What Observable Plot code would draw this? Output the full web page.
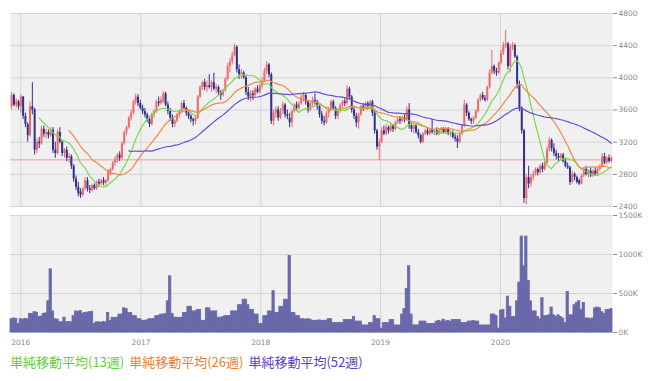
<!DOCTYPE html>
<html><head><meta charset="utf-8">
<script src="https://cdn.jsdelivr.net/npm/d3@7"></script>
<script src="https://cdn.jsdelivr.net/npm/@observablehq/plot@0.6"></script>
<style>
body{margin:0;background:#fff;}
#wrap{position:relative;width:654px;height:381px;overflow:hidden;}
#price,#vol{display:block;line-height:0;}
#legend{position:absolute;left:10px;top:354px;font-family:"Noto Sans CJK JP";font-size:13px;line-height:16px;white-space:nowrap;}
#legend span{margin-right:5px;}
</style></head><body>
<div id="wrap"><div id="price"></div><div id="vol"></div><div id="legend"></div></div>
<script>
const startDate = "2015-12-04"; // first weekly bar
const open = [
3640,3780,3660,3700,3640,3760,3520,3420,3280,3640,
3600,3100,3200,3180,3360,3300,3320,3280,3350,3100,
3060,3320,3200,3060,3100,3000,3020,2900,2740,2640,
2580,2540,2620,2720,2620,2600,2660,2620,2700,2680,
2720,2690,2720,2800,2860,2940,2980,3040,3000,3180,
3320,3380,3500,3560,3700,3760,3680,3620,3580,3540,
3480,3420,3540,3580,3700,3680,3700,3800,3660,3580,
3500,3420,3460,3540,3580,3680,3620,3560,3520,3480,
3460,3500,3760,3880,3940,3880,3900,3880,3940,3860,
3880,3820,3780,3840,3980,4140,4200,4280,4380,4100,
4040,4060,4000,3820,3760,3800,3780,3860,3820,3900,
3960,4080,4160,4040,3460,3560,3600,3500,3580,3660,
3540,3500,3440,3580,3660,3620,3680,3760,3780,3700,
3600,3680,3720,3700,3640,3540,3460,3440,3560,3600,
3700,3620,3520,3580,3660,3700,3680,3860,3760,3600,
3520,3440,3540,3640,3620,3680,3640,3700,3560,3340,
3140,3200,3340,3300,3380,3340,3400,3360,3440,3480,
3460,3500,3480,3600,3400,3360,3400,3320,3280,3200,
3300,3340,3300,3360,3320,3340,3300,3340,3360,3320,
3360,3300,3320,3260,3240,3200,3300,3400,3660,3560,
3480,3460,3500,3580,3720,3780,3740,3720,3880,4060,
4140,4080,4060,4180,4300,4400,4420,4140,4380,4400,
4260,3920,3620,3340,2500,2760,2680,2760,2800,2860,
2820,2900,2860,2940,3100,3220,3120,3060,3020,3000,
3040,2960,2900,2880,2700,2800,2760,2720,2680,2780,
2860,2800,2840,2780,2840,2800,2860,2900,3020,2940,
3000,2960];
const high = [
3820,3800,3740,3720,3790,3770,3560,3440,3700,3940,
3620,3240,3260,3400,3400,3360,3350,3380,3380,3200,
3350,3380,3220,3120,3140,3060,3040,2920,2780,2700,
2620,2640,2760,2760,2660,2680,2680,2720,2740,2740,
2760,2740,2860,2880,2960,3020,3060,3080,3200,3340,
3400,3520,3600,3720,3800,3790,3720,3660,3620,3560,
3500,3560,3600,3720,3760,3760,3830,3820,3700,3620,
3540,3480,3560,3600,3700,3720,3640,3600,3540,3500,
3520,3780,3900,3960,3980,3960,4040,3960,4060,3920,
3900,3840,3860,4000,4180,4240,4320,4420,4400,4160,
4100,4080,4020,3880,3840,3840,3880,3900,3920,4000,
4120,4200,4180,4060,3600,3640,3640,3620,3700,3680,
3600,3560,3600,3680,3700,3700,3780,3820,3800,3720,
3700,3760,3800,3720,3660,3580,3520,3580,3620,3720,
3720,3640,3600,3680,3720,3740,3900,3880,3780,3640,
3560,3560,3660,3680,3700,3700,3720,3720,3580,3360,
3240,3380,3400,3420,3400,3420,3420,3460,3500,3520,
3520,3540,3640,3680,3440,3420,3420,3360,3300,3320,
3360,3380,3360,3480,3360,3380,3360,3380,3380,3380,
3380,3340,3340,3300,3280,3320,3420,3720,3680,3580,
3500,3520,3600,3740,3800,3820,3780,3900,4100,4340,
4160,4120,4200,4340,4440,4590,4440,4420,4440,4420,
4280,3960,3640,3360,2800,2900,2800,2840,2880,2880,
2920,2940,2960,3140,3260,3240,3180,3100,3060,3060,
3060,3000,2940,2900,2840,2820,2780,2740,2800,2880,
2900,2860,2880,2860,2880,2880,2920,3060,3060,3020,
3040,3020];
const low = [
3600,3640,3620,3600,3560,3480,3380,3200,3260,3540,
3040,3060,3120,3160,3260,3240,3240,3260,3060,3000,
3040,3180,3020,3000,2960,2940,2860,2700,2600,2520,
2500,2520,2600,2580,2560,2580,2600,2600,2640,2660,
2660,2660,2700,2780,2840,2900,2940,2960,2980,3160,
3280,3360,3460,3540,3660,3640,3600,3540,3500,3440,
3380,3400,3500,3560,3640,3660,3680,3640,3540,3460,
3380,3380,3440,3500,3560,3600,3520,3480,3440,3400,
3420,3480,3740,3840,3840,3820,3860,3820,3840,3800,
3780,3720,3760,3820,3960,4060,4160,4260,4060,3980,
3980,3980,3780,3720,3700,3720,3760,3800,3800,3860,
3940,4040,4000,3420,3400,3500,3460,3480,3540,3500,
3480,3380,3380,3560,3580,3600,3660,3700,3660,3560,
3580,3640,3660,3600,3500,3420,3400,3420,3500,3580,
3600,3480,3480,3560,3620,3640,3660,3720,3560,3480,
3380,3360,3520,3580,3600,3600,3620,3520,3300,3100,
2970,3180,3280,3280,3300,3320,3320,3340,3420,3420,
3440,3440,3460,3360,3320,3300,3300,3240,3180,3180,
3280,3280,3280,3300,3280,3280,3280,3300,3300,3300,
3280,3260,3240,3200,3120,3180,3280,3380,3520,3460,
3420,3420,3480,3560,3700,3720,3700,3700,3860,4040,
4040,4020,4040,4160,4280,4360,4100,4060,4340,4240,
3860,3580,3300,2440,2420,2620,2640,2720,2780,2780,
2800,2820,2840,2920,3080,3080,3020,2980,2960,2980,
2940,2880,2860,2660,2680,2720,2680,2660,2670,2760,
2780,2760,2760,2760,2780,2790,2840,2880,2920,2920,
2940,2940];
const close = [
3780,3660,3700,3640,3760,3520,3420,3280,3640,3600,
3100,3200,3180,3360,3300,3320,3280,3350,3100,3060,
3320,3200,3060,3100,3000,3020,2900,2740,2640,2560,
2540,2620,2720,2620,2600,2660,2620,2700,2680,2720,
2690,2720,2840,2860,2940,2980,3040,3000,3180,3320,
3380,3500,3560,3700,3760,3680,3620,3580,3540,3480,
3420,3540,3580,3700,3680,3720,3800,3660,3580,3500,
3420,3460,3540,3580,3680,3620,3560,3520,3480,3460,
3500,3760,3880,3940,3880,3900,3880,3940,3860,3880,
3820,3780,3840,3980,4140,4200,4280,4380,4100,4040,
4060,4000,3820,3760,3800,3780,3860,3820,3900,3960,
4080,4160,4040,3460,3560,3600,3500,3580,3660,3540,
3520,3440,3580,3660,3620,3680,3760,3780,3700,3600,
3680,3720,3700,3640,3540,3460,3440,3560,3600,3700,
3620,3520,3580,3660,3700,3680,3860,3760,3600,3520,
3440,3540,3640,3620,3680,3640,3700,3560,3340,3140,
3200,3340,3300,3380,3340,3400,3360,3440,3480,3460,
3500,3480,3600,3400,3360,3400,3320,3280,3200,3300,
3340,3300,3340,3320,3340,3300,3340,3360,3320,3360,
3300,3320,3260,3240,3200,3300,3400,3660,3560,3480,
3460,3500,3580,3720,3780,3740,3720,3880,4060,4140,
4080,4060,4180,4300,4400,4420,4140,4380,4400,4260,
3920,3620,3340,2500,2760,2680,2760,2800,2860,2820,
2900,2860,2940,3100,3220,3120,3060,3020,3000,3040,
2960,2900,2880,2700,2800,2760,2700,2680,2780,2860,
2800,2840,2780,2840,2800,2860,2900,3020,2940,3000,
2960,3000];
const volume = [ // thousands of shares
170,180,175,110,170,165,175,170,240,235,
260,255,200,205,240,245,400,810,270,170,
165,130,130,190,130,135,130,210,270,265,
275,240,250,255,260,265,110,130,130,125,
135,130,250,150,190,185,190,230,230,310,
300,250,250,210,210,170,170,150,150,155,
170,170,175,210,210,230,230,235,400,720,
240,190,190,185,190,250,250,330,330,270,
270,290,290,150,150,310,310,270,270,270,
190,190,195,210,210,210,270,270,270,350,
350,420,420,350,290,290,230,230,110,110,
210,210,270,270,530,250,250,330,330,420,
420,980,250,250,210,210,170,170,165,170,
165,150,150,150,155,150,150,150,170,170,
120,120,120,125,120,160,160,160,160,200,
140,140,140,90,90,90,120,120,210,170,
170,50,120,120,120,160,160,90,90,90,
230,300,560,850,230,90,90,90,140,140,
140,110,110,110,110,140,150,140,165,140,
150,140,160,160,160,160,120,120,120,140,
140,150,140,140,90,90,90,90,90,230,
230,210,50,280,290,180,460,330,200,200,
400,640,1230,850,1230,660,400,270,270,200,
170,440,210,210,220,320,220,200,220,200,
180,120,520,220,220,350,380,400,290,380,
180,180,170,180,310,320,310,260,240,290,
290,300];

const yearTicks = ["2016-01-01","2017-01-01","2018-01-01","2019-01-01","2020-01-01"];
const priceTicks = [2400,2800,3200,3600,4000,4400,4800];
const volumeTicks = [0,500,1000,1500];
const referenceLevel = [2980];
const maPeriods = [13,26,52];
const maColors = ["#7ad84f","#ef8a44","#6a4ed2"];
const legendColors = ["#5fcf38","#ef7d30","#6040c8"];
const maLabels = ["単純移動平均(13週)","単純移動平均(26週)","単純移動平均(52週)"];

const DAY = 864e5;
const t0 = new Date(startDate + "T00:00:00Z").getTime();
const data = close.map((c, i) => ({
  date: new Date(t0 + i * 7 * DAY),
  x1: new Date(t0 + i * 7 * DAY - 3.5 * DAY),
  x2: new Date(t0 + i * 7 * DAY + 3.5 * DAY),
  open: open[i], high: high[i], low: low[i], close: c, volume: volume[i]
}));
const upBars = data.filter(d => d.close >= d.open);
const downBars = data.filter(d => d.close < d.open);
const xDomain = [data[0].x1, data[data.length - 1].x2];
const yearDates = yearTicks.map(s => new Date(s + "T00:00:00Z"));
const UP = "#f06868", DOWN = "#30308f", GRID = "#d4d4d4", BG = "#f0f0f0", VOL = "#6969aa";

const axisStyle = {background: "transparent", fontSize: "7.5px", fontFamily: "DejaVu Sans", color: "#8a8a8a", overflow: "visible"};

const price = Plot.plot({
  width: 654, height: 210, marginTop: 13, marginBottom: 4, marginLeft: 10, marginRight: 42,
  style: axisStyle,
  x: {type: "utc", domain: xDomain, axis: null},
  y: {domain: [2400, 4800], axis: "right", ticks: priceTicks, tickSize: 4, tickPadding: 2, label: null, tickFormat: d => String(d)},
  marks: [
    Plot.frame({fill: BG, stroke: "none"}),
    Plot.ruleY(priceTicks, {stroke: GRID}),
    Plot.ruleX(yearDates, {stroke: GRID}),
    Plot.ruleY(referenceLevel, {stroke: "#f29a9a"}),
    Plot.ruleX(upBars, {x: "date", y1: "low", y2: "high", stroke: UP, strokeWidth: 1}),
    Plot.ruleX(downBars, {x: "date", y1: "low", y2: "high", stroke: DOWN, strokeWidth: 1}),
    Plot.ruleX(upBars, {x: "date", y1: "open", y2: "close", stroke: UP, strokeWidth: 2}),
    Plot.ruleX(downBars, {x: "date", y1: "open", y2: "close", stroke: DOWN, strokeWidth: 2}),
    ...maPeriods.map((k, j) => Plot.lineY(data, Plot.windowY({k, anchor: "end", strict: true, reduce: "mean"},
      {x: "date", y: "close", stroke: maColors[j], strokeWidth: 1.2})))
  ]
});
document.getElementById("price").appendChild(price);

const vol = Plot.plot({
  width: 654, height: 140, marginTop: 5, marginBottom: 18, marginLeft: 10, marginRight: 42,
  style: axisStyle,
  x: {type: "utc", domain: xDomain, ticks: yearDates, tickFormat: d3.utcFormat("%Y"), tickSize: 0, tickPadding: 7, label: null},
  y: {domain: [0, 1500], axis: "right", ticks: volumeTicks, tickSize: 4, tickPadding: 2, label: null, tickFormat: d => d + "K"},
  marks: [
    Plot.frame({fill: BG, stroke: "none"}),
    Plot.ruleY(volumeTicks, {stroke: GRID}),
    Plot.ruleX(yearDates, {stroke: GRID}),
    Plot.rectY(data, {x1: "x1", x2: "x2", y: "volume", fill: VOL, stroke: VOL, strokeWidth: 0.8})
  ]
});
document.getElementById("vol").appendChild(vol);

const legend = document.getElementById("legend");
maLabels.forEach((t, j) => {
  const s = document.createElement("span");
  s.textContent = t;
  s.style.color = legendColors[j];
  legend.appendChild(s);
});
</script>
</body></html>
